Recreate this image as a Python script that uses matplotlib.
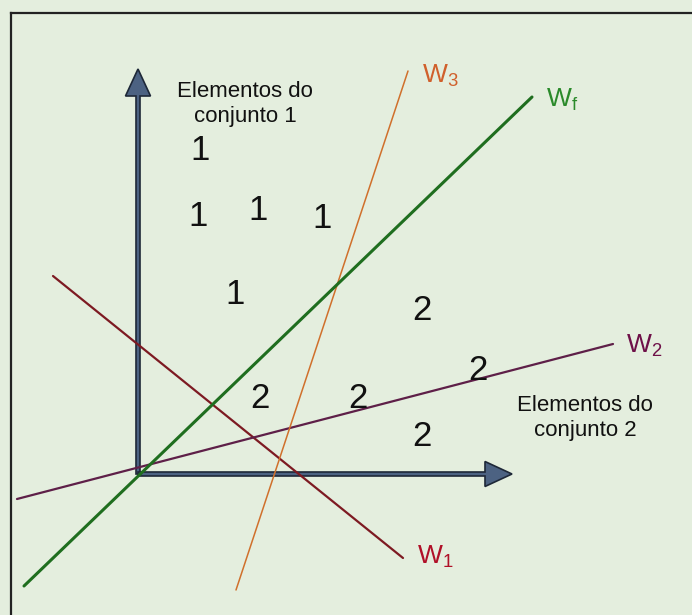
import matplotlib.pyplot as plt

plt.rcParams['font.family'] = ['Liberation Sans', 'DejaVu Sans']
plt.rcParams['mathtext.fontset'] = 'custom'
plt.rcParams['mathtext.rm'] = 'Liberation Sans'
plt.rcParams['mathtext.default'] = 'regular'

fundo = '#e4eede'

# retas de separação: (x0, y0, x1, y1) em pixels da página
retas = {
    'W1': (53, 276, 403, 558),
    'W2': (17, 499, 613, 344),
    'W3': (408, 71, 236, 590),
    'Wf': (24, 586, 532, 97),
}
cores = {'W1': '#7d1a22', 'W2': '#5e1f48', 'W3': '#d0702c', 'Wf': '#1f6e1f'}
larguras = {'W1': 1.6, 'W2': 1.6, 'W3': 1.1, 'Wf': 2.2}
cores_rotulo = {'W1': '#b01028', 'W2': '#6e1048', 'W3': '#d0602c', 'Wf': '#2a8a2a'}
rotulos = {'W1': 'W$_1$', 'W2': 'W$_2$', 'W3': 'W$_3$', 'Wf': 'W$_f$'}
pos_rotulo = {'W1': (417, 557), 'W2': (626, 346), 'W3': (422, 76), 'Wf': (546, 100)}

# elementos de cada conjunto
x_c1 = [200, 198, 258, 322, 235]
y_c1 = [150, 217, 210, 219, 295]
x_c2 = [422, 260, 358, 478, 422]
y_c2 = [310, 398, 398, 370, 437]

fig = plt.figure(figsize=(6.92, 6.15), dpi=100)
fig.patch.set_facecolor(fundo)
ax = fig.add_axes([0, 0, 1, 1])
ax.set_facecolor(fundo)
ax.set_xlim(0, 692)
ax.set_ylim(615, 0)
ax.axis('off')

# moldura
ax.plot([11, 692], [13, 13], color='#222222', lw=1.6, zorder=1)
ax.plot([11, 11], [13, 615], color='#222222', lw=1.6, zorder=1)

# eixos com setas
seta = dict(width=4, head_width=25, head_length=27, length_includes_head=True,
            fc='#4c6282', ec='#1e2838', lw=1.2, zorder=2)
ax.arrow(138, 474, 0, 69 - 474, **seta)
ax.arrow(138, 474, 512 - 138, 0, **seta)

for k, (x0, y0, x1, y1) in retas.items():
    ax.plot([x0, x1], [y0, y1], color=cores[k], lw=larguras[k], zorder=3,
            solid_capstyle='round')
    tx, ty = pos_rotulo[k]
    ax.text(tx, ty, rotulos[k], color=cores_rotulo[k], fontsize=19,
            ha='left', va='center', zorder=4)

for x, y in zip(x_c1, y_c1):
    ax.text(x, y, '1', fontsize=25, ha='center', va='center', color='#111111', zorder=4)
for x, y in zip(x_c2, y_c2):
    ax.text(x, y, '2', fontsize=25, ha='center', va='center', color='#111111', zorder=4)

ax.text(245, 104, 'Elementos do\nconjunto 1', fontsize=16, ha='center', va='center',
        linespacing=1.25, color='#111111', zorder=4)
ax.text(585, 418, 'Elementos do\nconjunto 2', fontsize=16, ha='center', va='center',
        linespacing=1.25, color='#111111', zorder=4)

fig.savefig('out.png', dpi=100, facecolor=fundo)
